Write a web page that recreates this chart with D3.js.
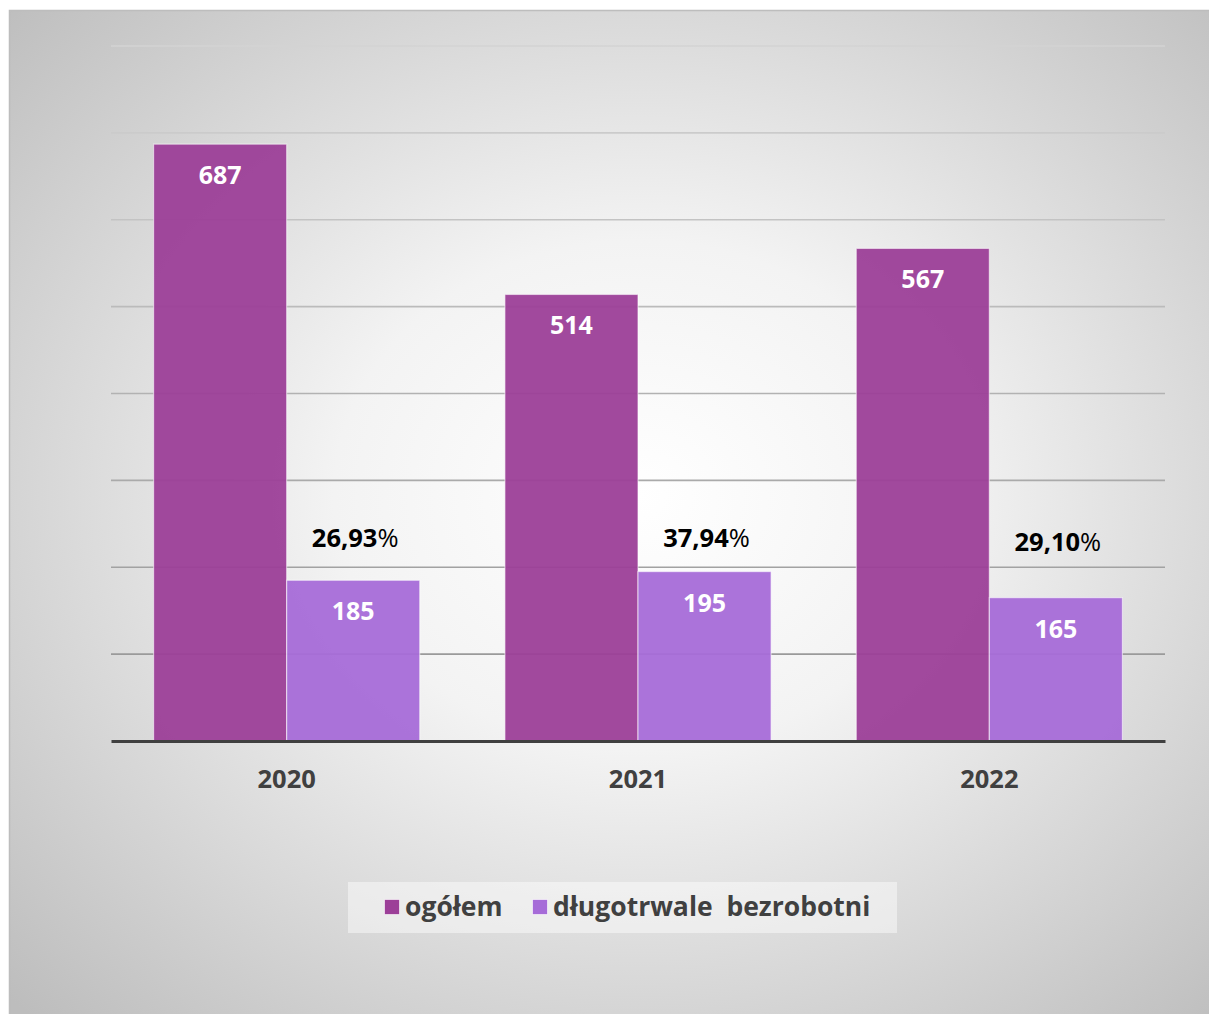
<!DOCTYPE html>
<html>
<head>
<meta charset="utf-8">
<script src="https://cdn.jsdelivr.net/npm/d3@7"></script>
<style>
  html, body { margin: 0; padding: 0; background: #ffffff; }
  svg { display: block; }
  text { font-family: "Open Sans", Lato, sans-serif; }
</style>
</head>
<body>
<script>
// ---- data ----
const years = ["2020", "2021", "2022"];
const seriesNames = ["ogółem", "długotrwale  bezrobotni"];
const ogolem = [687, 514, 567];
const dlugotrwale = [185, 195, 165];
const shareLabels = ["26,93", "37,94", "29,10"];
const shareLabelLevel = [232, 232, 228]; // value-axis level where the share label sits
const yTicks = [0, 100, 200, 300, 400, 500, 600, 700, 800];
const seriesColors = ["#9c3f98", "#a66bd8"];

const W = 1209, H = 1014;
const FONT = "'Open Sans', Lato, sans-serif";
const svg = d3.select("body").append("svg").attr("width", W).attr("height", H);
const defs = svg.append("defs");

const bg = defs.append("radialGradient").attr("id", "bg")
  .attr("cx", "52%").attr("cy", "48%").attr("r", "72%");
bg.append("stop").attr("offset", "0%").attr("stop-color", "#ffffff");
bg.append("stop").attr("offset", "35%").attr("stop-color", "#f3f3f3");
bg.append("stop").attr("offset", "100%").attr("stop-color", "#bdbdbd");

svg.append("rect").attr("x", 9.5).attr("y", 10.5).attr("width", 1210).attr("height", 1010)
  .attr("fill", "url(#bg)").attr("stroke", "#bdbdbd").attr("stroke-width", 1.5);

// ---- scales ----
const plotL = 111, plotR = 1165, plotT = 46, plotB = 741;
const y = d3.scaleLinear().domain([0, 800]).range([plotB, plotT]);
const x0 = d3.scaleBand().domain(years).range([plotL, plotR]).padding(0);
const x1 = d3.scaleBand().domain(seriesNames).range([0, x0.bandwidth()])
  .paddingInner(0).paddingOuter(0.32);

// ---- gridlines ----
const gridColor = d3.scaleLinear().domain([800, 100]).range(["#d3d3d3", "#9a9a9a"]);
svg.append("g").selectAll("line").data(yTicks.filter(d => d > 0)).join("line")
  .attr("x1", plotL).attr("x2", plotR)
  .attr("y1", d => y(d)).attr("y2", d => y(d))
  .attr("stroke", d => gridColor(d)).attr("stroke-width", 1.6);

// ---- bars ----
const rows = years.map((yr, i) => ({ year: yr, values: [ogolem[i], dlugotrwale[i]] }));
const groups = svg.append("g").selectAll("g").data(rows).join("g")
  .attr("transform", d => `translate(${x0(d.year)},0)`);

groups.selectAll("rect").data(d => d.values.map((v, j) => ({ v, s: seriesNames[j], j })))
  .join("rect")
  .attr("x", d => x1(d.s))
  .attr("y", d => y(d.v))
  .attr("width", x1.bandwidth())
  .attr("height", d => y(0) - y(d.v))
  .attr("fill", d => seriesColors[d.j])
  .attr("fill-opacity", 0.95)
  .attr("stroke", "#ffffff").attr("stroke-opacity", 0.55).attr("stroke-width", 1.2);

groups.selectAll("text.val").data(d => d.values.map((v, j) => ({ v, s: seriesNames[j] })))
  .join("text").attr("class", "val")
  .attr("x", d => x1(d.s) + x1.bandwidth() / 2)
  .attr("y", d => y(d.v) + 40)
  .attr("text-anchor", "middle")
  .attr("font-size", 25).attr("font-weight", "bold").attr("fill", "#ffffff")
  .text(d => d.v);

// ---- share labels ----
years.forEach((yr, i) => {
  const t = svg.append("text")
    .attr("x", x0(yr) + x1(seriesNames[1]) + x1.bandwidth() / 2 + 2)
    .attr("y", y(shareLabelLevel[i]) + 8)
    .attr("text-anchor", "middle")
    .attr("font-size", 25.5).attr("fill", "#000000");
  t.append("tspan").attr("font-weight", "bold").text(shareLabels[i]);
  t.append("tspan").attr("font-weight", "normal").text("%");
});

// ---- axis ----
const xAxis = svg.append("g").attr("transform", `translate(0,${plotB})`)
  .call(d3.axisBottom(x0).tickSize(0).tickPadding(29));
xAxis.select(".domain").attr("stroke", "#404040").attr("stroke-width", 3);
xAxis.selectAll("text").attr("font-size", 25.5).attr("font-weight", "bold")
  .attr("fill", "#404040").attr("font-family", FONT);

// ---- legend ----
const lg = svg.append("g");
lg.append("rect").attr("x", 348).attr("y", 882).attr("width", 549).attr("height", 51)
  .attr("fill", "#ffffff").attr("fill-opacity", 0.45);
const legendX = [384, 532];
seriesNames.forEach((name, j) => {
  lg.append("rect").attr("x", legendX[j] + 0.5).attr("y", 899.5).attr("width", 15).attr("height", 15)
    .attr("fill", seriesColors[j]).attr("stroke", "#ffffff").attr("stroke-opacity", 0.6);
  lg.append("text").attr("x", legendX[j] + 21).attr("y", 916)
    .attr("font-size", 26.5).attr("font-weight", "bold").attr("fill", "#404040")
    .attr("xml:space", "preserve").style("white-space", "pre")
    .text(name);
});
</script>
</body>
</html>
